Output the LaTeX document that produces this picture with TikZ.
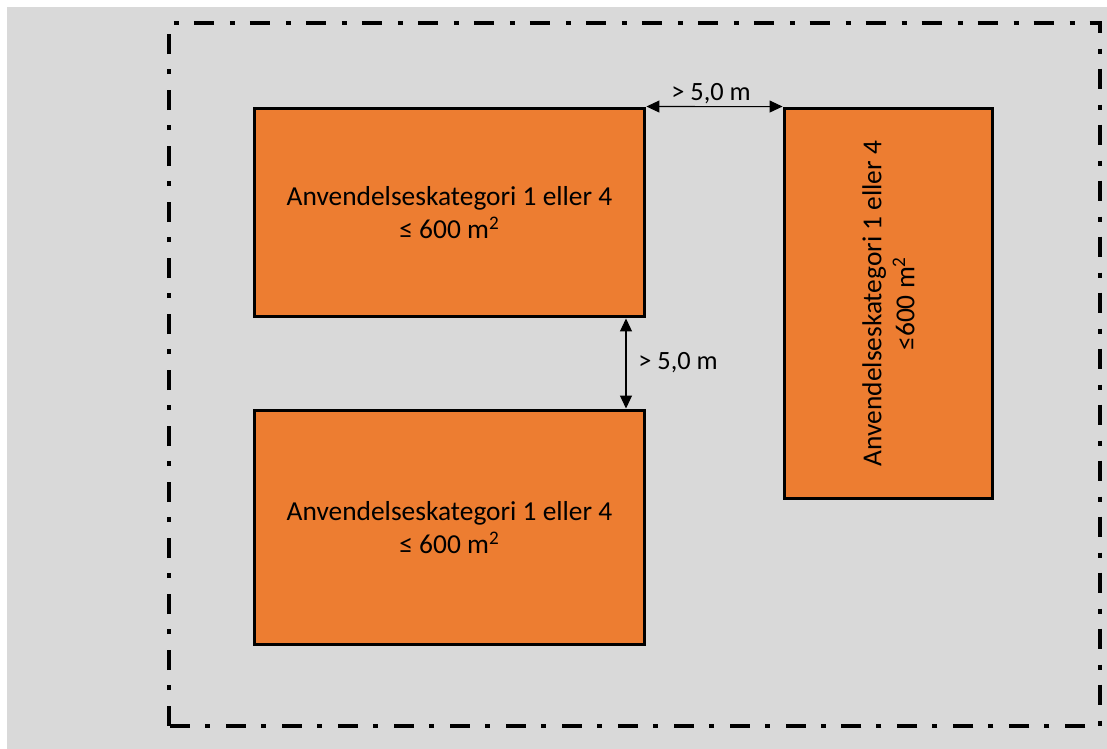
\documentclass[tikz,border=0pt]{standalone}
\usepackage{fontspec}
\setmainfont{Carlito}
\usepackage{tikz}
\usetikzlibrary{arrows.meta}
\definecolor{plotgray}{HTML}{D9D9D9}
\definecolor{areaorange}{HTML}{ED7D31}

\begin{document}
\begin{tikzpicture}[x=0.02cm,y=-0.02cm,
    area/.style={draw=black,line width=1.7pt,fill=areaorange,rectangle,inner sep=0pt,
      align=center,font=\fontsize{15.6}{18.7}\selectfont},
    gap/.style={{Triangle[length=0.26cm,width=0.24cm]}-{Triangle[length=0.26cm,width=0.24cm]},line width=0.6pt},
    gaplabel/.style={font=\fontsize{15}{18}\selectfont,inner sep=0pt}]
    % the plot
    \useasboundingbox (0,0) rectangle (1107,749);
    \fill[plotgray] (7,7) rectangle (1107,749);
    \draw[line width=2.3pt,dash pattern=on 0.4cm off 0.32cm on 0.1cm off 0.3cm]
      (169,726) -- (169,23) -- (1100,23) -- (1100,726) -- cycle;

    \node (b1) at (449.5,212.5) [area,minimum width=7.82cm,minimum height=4.18cm]{
      Anvendelseskategori 1 eller 4\\
      ≤ 600 m\textsuperscript{2}
    };
    \node (b3) at (449.5,527.5) [area,minimum width=7.82cm,minimum height=4.7cm]{
      Anvendelseskategori 1 eller 4\\
      ≤ 600 m\textsuperscript{2}
    };
    \node (b2) at (888.5,303.5) [area,minimum width=4.18cm,minimum height=7.82cm]{};
    \node at (b2.center) [rotate=90,align=center,inner sep=0pt,font=\fontsize{15.6}{18.7}\selectfont]{
      Anvendelseskategori 1 eller 4\\
      ≤600 m\textsuperscript{2}
    };

    % distances
    \draw[gap] (b1.north east) -- (b2.north west);
    \node at (711,101) [gaplabel,anchor=base]{> 5,0 m};
    \coordinate (vx) at (626,0);
    \draw[gap] (b1.south -| vx) -- (b3.north -| vx);
    \node at (638,370) [gaplabel,anchor=base west]{> 5,0 m};
  \end{tikzpicture}
\end{document}
